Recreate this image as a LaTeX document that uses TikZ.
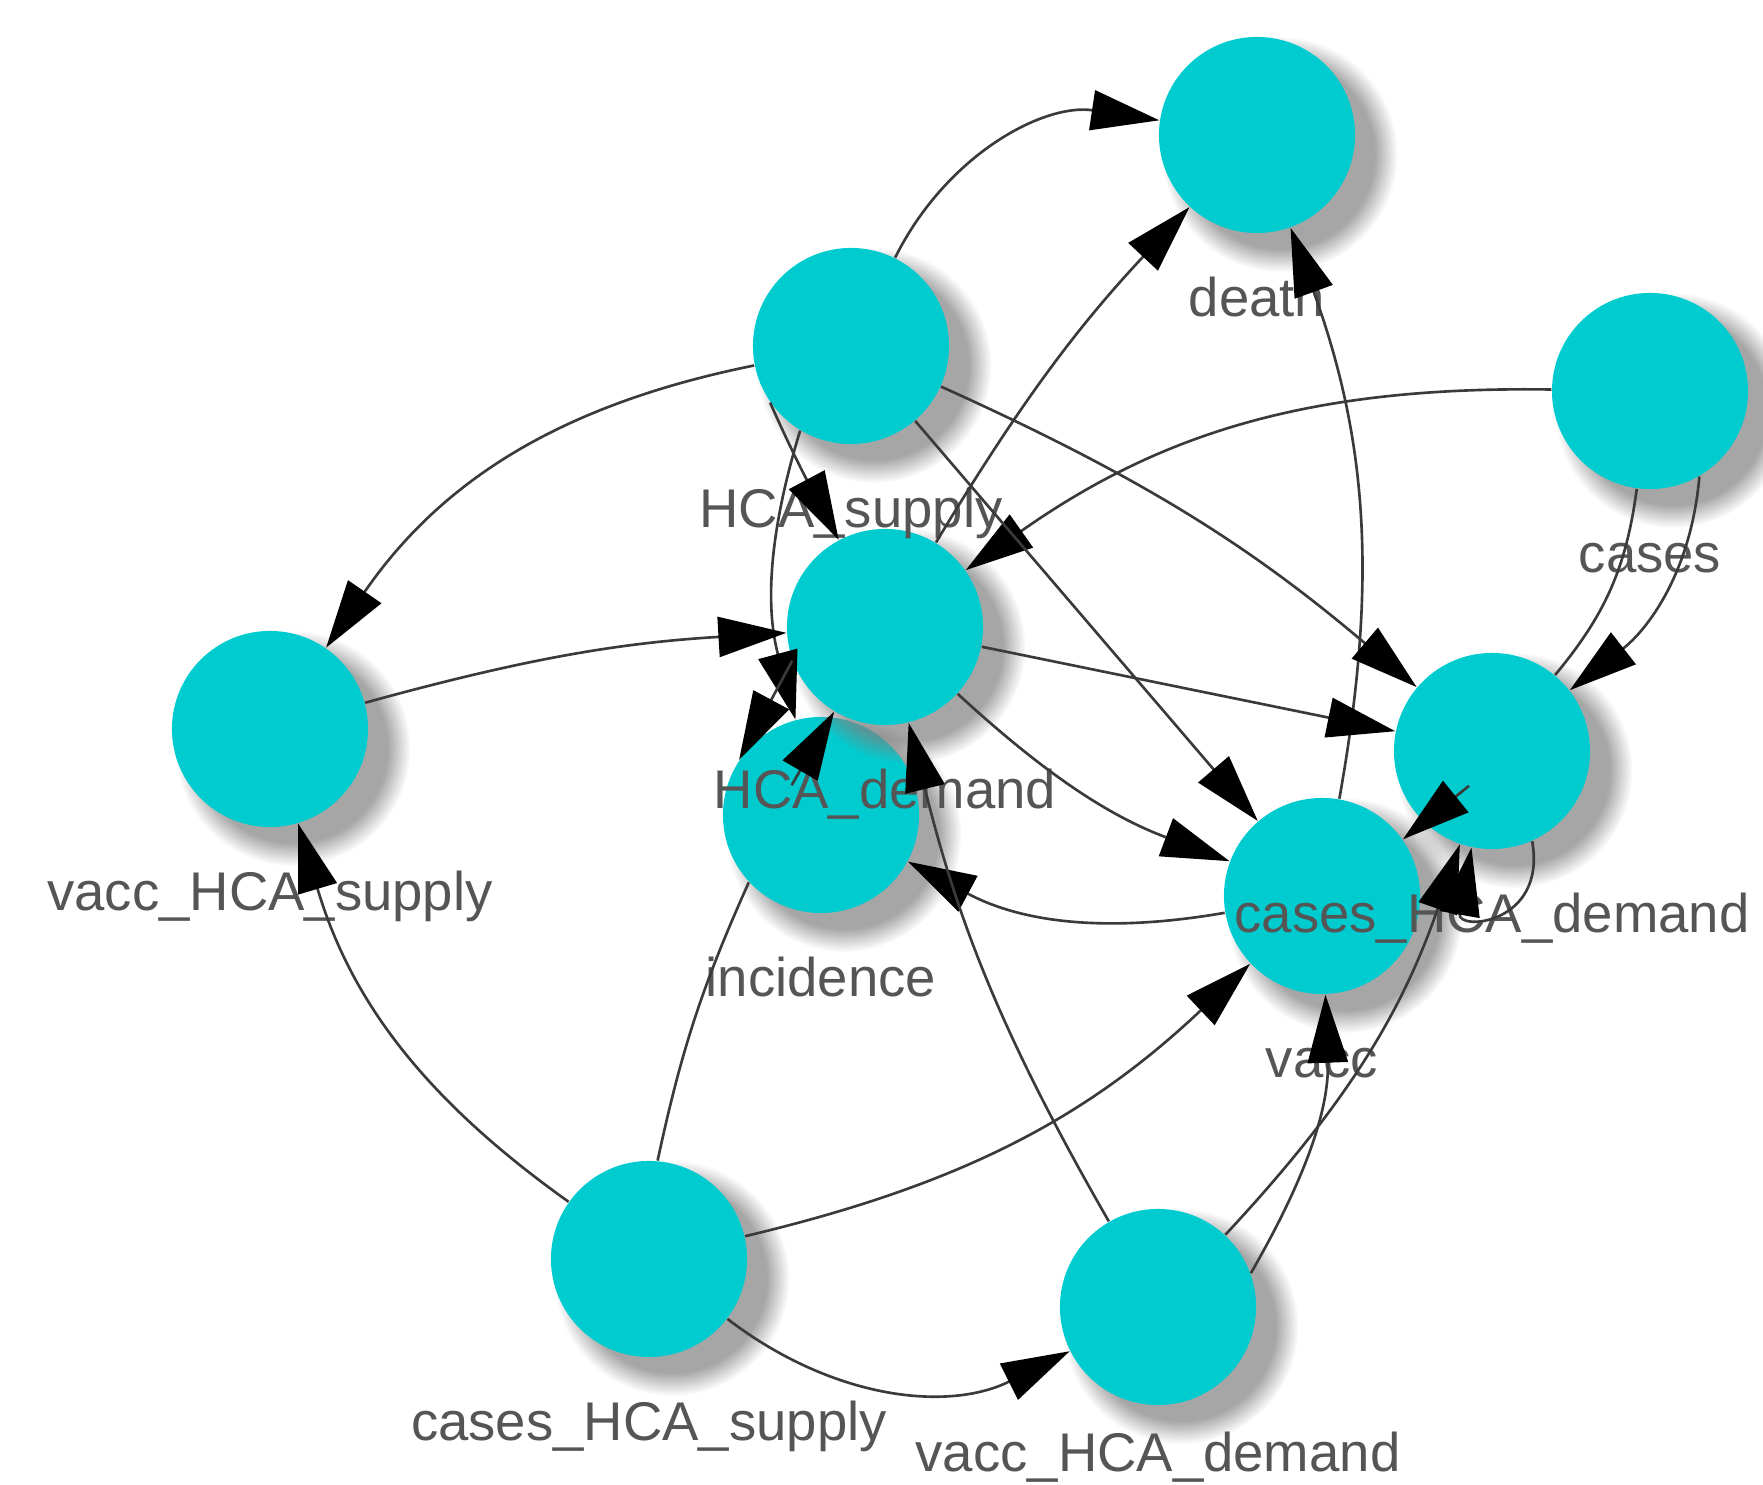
\documentclass[tikz,border=0pt]{standalone}
\usepackage{fontspec}
\setmainfont{Liberation Sans}
\usetikzlibrary{arrows.meta,shadows,fadings,calc}
\definecolor{VNTeal}{HTML}{00CCD0}
\definecolor{VNEdge}{HTML}{3A3A3A}
\definecolor{VNText}{HTML}{555555}
\begin{document}
\begin{tikzpicture}[x=0.01cm,y=0.01cm,
  vnode/.style={circle,fill=VNTeal,minimum size=1.96cm,inner sep=0pt,
    circular drop shadow={shadow xshift=0.19cm,shadow yshift=-0.16cm,shadow scale=1.2,opacity=0.7,
      path fading=circle with fuzzy edge 20 percent}},
  vlabel/.style={anchor=base,inner sep=0pt,text=VNText,font=\fontsize{15.5pt}{18pt}\selectfont},
  vedge/.style={draw=VNEdge,line width=0.75pt},
  varrow/.style={vedge,-{Triangle[length=0.68cm,width=0.4cm,color=black]}}]
\path[use as bounding box] (0,0) rectangle (1763,1485);
\node[vnode] (death) at (1257,1350) {};
\node[vnode] (cases) at (1650,1094) {};
\node[vnode] (incid) at (821,670) {};
\node[vnode] (hcadem) at (885,858) {};
\node[vnode] (hcasup) at (851,1139) {};
\node[vnode] (vacc) at (1322,589) {};
\node[vnode] (chdem) at (1492,734) {};
\node[vnode] (vhsup) at (270,756) {};
\node[vnode] (chsup) at (649,226) {};
\node[vnode] (vhdem) at (1158,178) {};
\node[vlabel] (death-l) at ($(death)+(0,-182)$) {death};
\node[vlabel] (cases-l) at ($(cases)+(0,-182)$) {cases};
\node[vlabel] (incid-l) at ($(incid)+(0,-182)$) {incidence};
\node[vlabel] (hcadem-l) at ($(hcadem)+(0,-182)$) {HCA\_demand};
\node[vlabel] (hcasup-l) at ($(hcasup)+(0,-182)$) {HCA\_supply};
\node[vlabel] (vacc-l) at ($(vacc)+(0,-182)$) {vacc};
\node[vlabel] (chdem-l) at ($(chdem)+(0,-182)$) {cases\_HCA\_demand};
\node[vlabel] (vhsup-l) at ($(vhsup)+(0,-182)$) {vacc\_HCA\_supply};
\node[vlabel] (chsup-l) at ($(chsup)+(0,-182)$) {cases\_HCA\_supply};
\node[vlabel] (vhdem-l) at ($(vhdem)+(0,-165)$) {vacc\_HCA\_demand};
\path (hcadem.239) ++(240:85) coordinate (incarr);
\path (vacc.35) ++(39:85) coordinate (chdarr);
\draw[varrow] (hcasup) to[bend left=36] (death);
\draw[varrow] (hcadem) to[bend left=6] (death);
\draw[varrow] (vacc) to[bend right=15] (death);
\draw[varrow] (cases) to[bend right=18] (hcadem);
\draw[varrow] (cases.-60) to[out=-95,in=38] (chdem);
\draw[vedge] (cases) to[bend left=16] (chdem);
\draw[varrow] (chdarr) -- (vacc.35);
\draw[varrow] (hcasup) to[bend left=8] (chdem);
\draw[varrow] (hcasup) -- (vacc);
\draw[varrow] (hcasup) to[bend right=22] (vhsup);
\draw[varrow] (hcasup.215) to[out=-66,in=118] (hcadem);
\draw[varrow] (hcasup.239) to[out=253,in=105] (incid);
\draw[varrow] (vhsup) to[bend left=6] (hcadem);
\draw[varrow] (hcadem) -- (chdem);
\draw[varrow] (hcadem) to[bend right=11] (vacc);
\draw[varrow] (hcadem.200) -- (incid.146);
\draw[varrow] (vacc) to[bend left=19] (incid);
\draw[varrow] (chsup) to[bend left=19] (vhsup);
\draw[vedge] (chsup.85) to[bend left=6] (incid.223);
\draw[varrow] (incarr) -- (hcadem.239);
\draw[varrow] (chsup) to[bend right=15] (vacc);
\draw[varrow] (chsup) to[bend right=32] (vhdem);
\draw[varrow] (vhdem) to[bend left=8] (hcadem);
\draw[varrow] (vhdem.20) to[out=60,in=-88] (vacc);
\draw[varrow] (vhdem) to[bend right=12] (chdem);
\draw[varrow] (chdem.-66) .. controls +(-80:85) and +(-100:85) .. (chdem.-102);
\end{tikzpicture}
\end{document}
